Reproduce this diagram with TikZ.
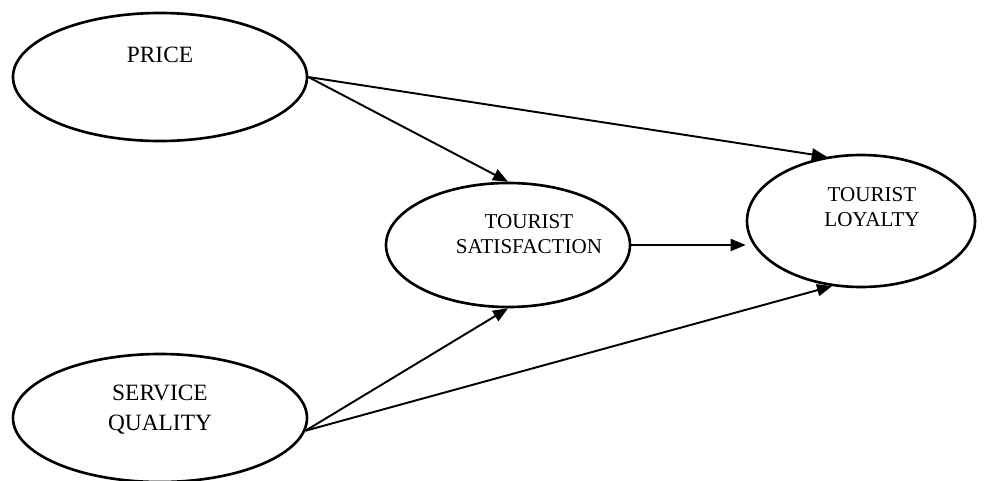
\documentclass[tikz,border=0pt]{standalone}
\usepackage{fontspec}
\setmainfont{Liberation Serif}
\usetikzlibrary{shapes.geometric, arrows.meta, positioning}

\begin{document}
\begin{tikzpicture}[
    construct/.style={ellipse, draw, line width=1.5pt, inner sep=0pt},
    bigcon/.style={construct, minimum width=5.88cm, minimum height=2.56cm},
    lbl/.style={font=\fontsize{12}{14.2}\selectfont, align=center},
    biglbl/.style={font=\fontsize{13.3}{17}\selectfont, align=center},
    path/.style={-{Triangle[length=0.3cm, width=0.24cm]}, line width=1.1pt}
]
\useasboundingbox (0,0) rectangle (19.74,9.6);

% Exogenous constructs
\node[bigcon, label={[biglbl, yshift=0.45cm]center:PRICE}] (price) at (3.2,8.06) {};
\node[bigcon, label={[biglbl, yshift=0.17cm]center:SERVICE\\QUALITY}] (quality) at (3.2,1.24) {};

% Mediator and outcome
\node[construct, minimum width=4.88cm, minimum height=2.48cm,
      label={[lbl, xshift=0.42cm, yshift=0.21cm]center:TOURIST\\SATISFACTION}] (satisfaction) at (10.16,4.70) {};
\node[construct, minimum width=4.56cm, minimum height=2.64cm,
      label={[lbl, xshift=0.22cm, yshift=0.27cm]center:TOURIST\\LOYALTY}] (loyalty) at (17.22,5.18) {};

% Hypothesised paths
\draw[path] (price.east) -- (satisfaction.north);
\draw[path] (price.east) -- (loyalty.118);
\draw[path] (quality.-5) -- (satisfaction.south);
\draw[path] (quality.-5) -- (loyalty.246);
\draw[path] (satisfaction.east) -- (satisfaction.east -| loyalty.west);

\end{tikzpicture}
\end{document}
